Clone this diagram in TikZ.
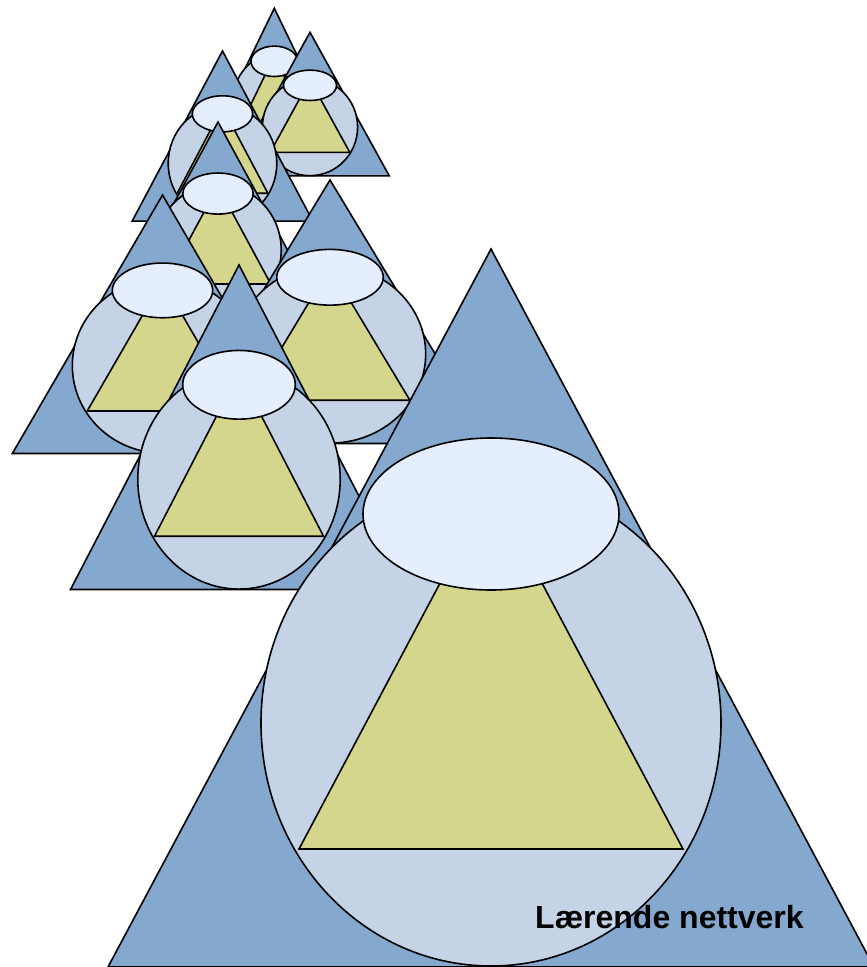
\documentclass[tikz,border=0pt]{standalone}
\usepackage{fontspec}
\setsansfont{Liberation Sans}

\definecolor{triblue}{HTML}{84A8CE}
\definecolor{globeblue}{HTML}{C4D4E6}
\definecolor{innergreen}{HTML}{D4D68E}
\definecolor{lidblue}{HTML}{E4EEFC}

\begin{document}
\begin{tikzpicture}[
    x=1pt, y=-1pt,
    %% big triangle behind each motif
    outer/.style={draw=black, fill=triblue, line width=1.6pt},
    %% the round body
    globe/.style={draw=black, fill=globeblue, line width=1.6pt},
    %% green triangle inside the body
    inner/.style={draw=black, fill=innergreen, line width=1.6pt},
    %% oval lid on top
    lid/.style={draw=black, fill=lidblue, line width=1.6pt},
    %% caption text
    labeltext/.style={font=\sffamily\bfseries\fontsize{32}{38}\selectfont,
        inner sep=0pt, anchor=base west},
    %% one motif, apex at the origin
    motif/.pic={
        \path[outer] (0,0) -- (-383,718) -- (383,718) -- cycle;
        \path[globe] (0,474) ellipse[x radius=230, y radius=243];
        \path[inner] (0,238) -- (-192,600) -- (192,600) -- cycle;
        \path[lid]   (0,265) ellipse[x radius=128, y radius=76];
    }
]
\useasboundingbox (0,0) rectangle (867,967);
\clip (0,0) rectangle (867,967);

%%-------------------------------------------------------------- motifs, back to front
\pic[xscale=0.182, yscale=0.2]   at (274.3,8.3) {motif};
\pic[xscale=0.207, yscale=0.2]   at (310,32.3)  {motif};
\pic[xscale=0.236, yscale=0.237] at (222.5,51)  {motif};
\pic[xscale=0.275, yscale=0.27]  at (218,122)   {motif};
\pic[xscale=0.392, yscale=0.36]  at (162.5,195) {motif};
\pic[xscale=0.416, yscale=0.367] at (330,180)   {motif};
\pic[xscale=0.44,  yscale=0.452] at (239,265)   {motif};
\pic                             at (491,249)   {motif};

%%-------------------------------------------------------------- caption
\node[labeltext] (caption) at (535,928) {Lærende nettverk};

\end{tikzpicture}
\end{document}
